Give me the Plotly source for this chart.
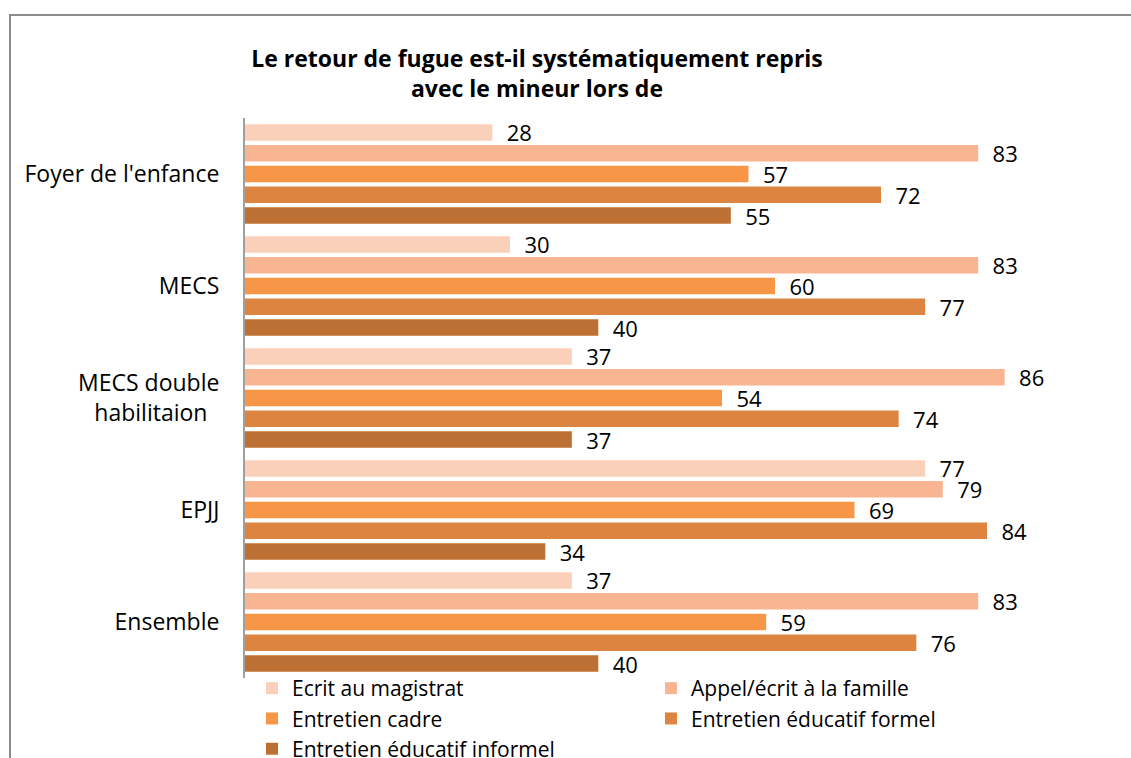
import plotly.graph_objects as go

# Établissements (de haut en bas)
categories = ["Foyer de l'enfance", "MECS", "MECS double<br>habilitaion\u00a0\u00a0", "EPJJ", "Ensemble"]

# Séries : % de retours de fugue systématiquement repris
series_names = [
    "Ecrit au magistrat",
    "Appel/écrit à la famille",
    "Entretien cadre",
    "Entretien éducatif formel",
    "Entretien éducatif informel",
]
ecrit_magistrat = [28, 30, 37, 77, 37]
appel_famille = [83, 83, 86, 79, 83]
entretien_cadre = [57, 60, 54, 69, 59]
entretien_formel = [72, 77, 74, 84, 76]
entretien_informel = [55, 40, 37, 34, 40]

series_values = [ecrit_magistrat, appel_famille, entretien_cadre, entretien_formel, entretien_informel]
colors = ["#FBD0BB", "#F9B592", "#F79646", "#DC8440", "#BD7033"]

FONT = "'Open Sans', sans-serif"

fig = go.Figure()
for name, vals, col in zip(series_names, series_values, colors):
    fig.add_trace(go.Bar(
        name=name,
        y=categories,
        x=vals,
        orientation="h",
        marker=dict(color=col, line=dict(width=0)),
        text=[f"\u00a0\u00a0{v}" for v in vals],
        textposition="outside",
        textfont=dict(size=22, color="#000000", family=FONT),
        constraintext="none",
        cliponaxis=False,
        hoverinfo="x+name",
    ))

W, H = 1131, 758
L, R, T, B = 245, 91, 118, 80
pw = W - L - R
ph = H - T - B

fig.update_layout(
    width=W, height=H,
    barmode="group",
    bargap=0.073,
    bargroupgap=0.2,
    plot_bgcolor="white",
    paper_bgcolor="white",
    margin=dict(l=L, r=R, t=T, b=B, autoexpand=False),
    font=dict(family=FONT, size=22, color="#000000"),
    title=dict(
        text="<b>Le retour de fugue est-il systématiquement repris<br>avec le mineur lors de</b>",
        x=537 / W, xanchor="center", xref="container",
        y=1 - 67 / H, yanchor="middle", yref="container",
        font=dict(size=23, family=FONT, color="#000000"),
    ),
    xaxis=dict(range=[0, 90], visible=False, showgrid=False, zeroline=False),
    yaxis=dict(
        autorange="reversed",
        showline=True, linecolor="#A0A0A0", linewidth=2,
        showgrid=False, zeroline=False,
        ticks="", ticklabelstandoff=19,
        tickfont=dict(size=23, family=FONT, color="#000000"),
    ),
    legend=dict(
        orientation="h",
        x=(252 - L) / pw, xanchor="left",
        y=10 / ph, yanchor="top",
        entrywidth=354,
        font=dict(size=21, family=FONT, color="#000000"),
        traceorder="normal",
        bgcolor="rgba(0,0,0,0)",
    ),
    showlegend=True,
    shapes=[
        dict(
            type="rect", xref="paper", yref="paper",
            x0=(10 - L) / pw, x1=(W + 20 - L) / pw,
            y0=-(B + 20) / ph, y1=(H - B - 15) / ph,
            line=dict(color="#8C8C8C", width=2),
            fillcolor="rgba(0,0,0,0)", layer="below",
        )
    ],
)

fig.write_html("out.html")
